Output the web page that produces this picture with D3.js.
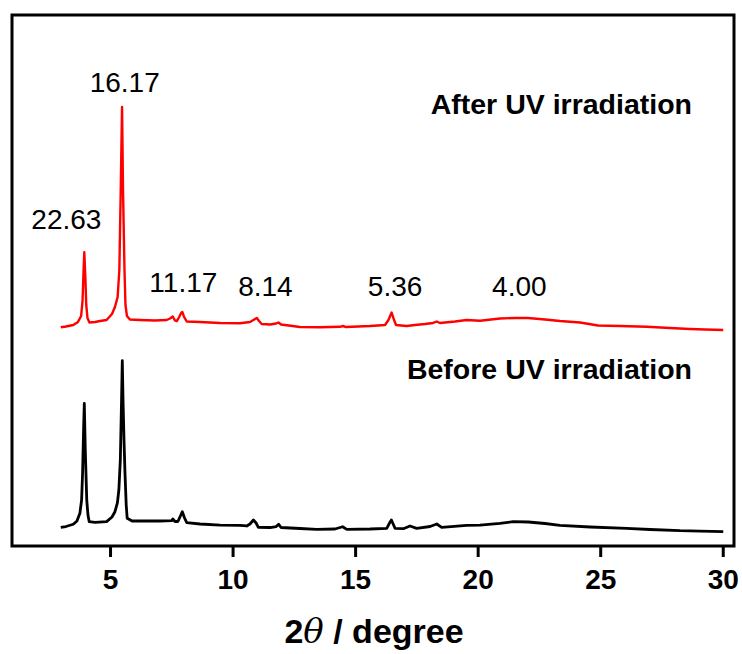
<!DOCTYPE html>
<html>
<head>
<meta charset="utf-8">
<script src="https://cdn.jsdelivr.net/npm/d3@7"></script>
<style>
  body { margin: 0; background: #fff; }
  text { font-family: "Liberation Sans", Arial, sans-serif; }
</style>
</head>
<body>
<div id="chart"></div>
<script>
// XRD patterns, 2theta (degree) and stacked intensity (a.u.)
const afterTheta = [2.99, 3.20, 3.50, 3.69, 3.82, 3.88, 3.92, 3.95, 3.99, 4.03, 4.08, 4.16, 4.39, 4.59, 4.86,
  5.08, 5.20, 5.31, 5.38, 5.43, 5.49, 5.53, 5.59, 5.63, 5.69, 5.81, 6.22, 6.83, 7.31, 7.45, 7.56, 7.65, 7.73,
  7.82, 7.90, 7.95, 8.02, 8.13, 8.67, 9.49, 10.30, 10.71, 10.85, 10.99, 11.08, 11.19, 11.53, 11.78, 11.87,
  11.98, 12.75, 13.57, 14.38, 14.51, 14.63, 15.61, 16.22, 16.36, 16.49, 16.59, 16.67, 17.10, 17.44, 17.85,
  18.18, 18.33, 18.46, 19.08, 19.55, 20.10, 20.91, 21.52, 22.05, 22.75, 23.36, 24.18, 24.91, 25.81, 26.90,
  27.85, 28.66, 29.28, 30.02];
const afterI = [41.19, 41.34, 41.62, 42.18, 43.31, 46.33, 51.98, 55.31, 51.04, 45.39, 42.94, 42.09, 42.18, 42.37, 42.56,
  43.69, 45.01, 46.89, 51.98, 65.16, 82.67, 67.04, 51.98, 45.39, 43.31, 42.66, 42.56, 42.47, 42.56, 42.84, 43.22, 42.47, 42.37,
  43.13, 43.88, 44.07, 43.13, 42.28, 42.18, 42.00, 41.94, 42.18, 42.56, 42.94, 42.37, 41.81, 41.71, 41.90, 42.09,
  41.71, 41.24, 41.19, 41.28, 41.43, 41.24, 41.43, 41.62, 42.56, 43.97, 42.56, 41.62, 41.43, 41.62, 41.81,
  42.00, 42.28, 42.00, 42.28, 42.56, 42.43, 42.84, 42.94, 42.94, 42.66, 42.37, 42.09, 41.53, 41.43, 41.30,
  41.06, 40.87, 40.77, 40.68];

const beforeTheta = [2.99, 3.20, 3.50, 3.65, 3.77, 3.84, 3.88, 3.92, 3.95, 3.99, 4.05, 4.10, 4.15, 4.39, 4.86,
  5.08, 5.20, 5.30, 5.36, 5.42, 5.47, 5.50, 5.53, 5.57, 5.61, 5.66, 5.70, 5.90, 6.22, 7.04, 7.52, 7.56, 7.65,
  7.77, 7.88, 7.95, 8.04, 8.13, 8.67, 9.49, 10.30, 10.58, 10.71, 10.85, 10.96, 11.05, 11.53, 11.78, 11.88,
  11.98, 12.75, 13.43, 14.18, 14.49, 14.66, 15.61, 16.29, 16.38, 16.48, 16.57, 16.63, 16.97, 17.24, 17.51,
  18.06, 18.33, 18.53, 19.55, 20.10, 20.91, 21.45, 22.07, 22.75, 23.36, 24.59, 26.08, 27.03, 28.26, 29.07, 30.02];
const beforeI = [3.52, 3.67, 4.09, 4.71, 6.16, 8.66, 13.75, 21.85, 26.87, 18.08, 8.66, 5.84, 4.58, 4.43, 4.58,
  5.46, 6.46, 8.10, 10.55, 16.20, 27.50, 34.90, 27.50, 19.96, 13.75, 7.72, 5.22, 4.71, 4.71, 4.71, 4.76, 5.08, 4.61,
  4.61, 5.74, 6.46, 5.27, 4.39, 4.14, 3.95, 3.90, 3.77, 4.14, 4.90, 4.33, 3.52, 3.48, 3.67, 4.09,
  3.48, 3.30, 3.14, 3.20, 3.63, 3.14, 3.20, 3.33, 4.14, 4.90, 3.95, 3.33, 3.26, 3.77, 3.33,
  3.67, 4.14, 3.52, 3.90, 3.95, 4.27, 4.58, 4.52, 4.24, 3.90, 3.58, 3.33, 3.11, 2.88, 2.82, 2.69];

// d-spacing labels (Angstrom) with the 2theta / intensity they sit above
const peakLabels = ["22.63", "16.17", "11.17", "8.14", "5.36", "4.00"];
const peakLabelTheta = [3.22, 5.60, 7.99, 11.34, 16.63, 21.70];
const peakLabelI = [59.7, 85.5, 47.8, 47.1, 47.1, 47.0];

const xTicks = [5, 10, 15, 20, 25, 30];

const width = 742, height = 654;
const plot = { left: 12, right: 735, top: 15, bottom: 546 };

const svg = d3.select("#chart").append("svg")
  .attr("width", width)
  .attr("height", height);

const x = d3.scaleLinear().domain([1, 30.5]).range([plot.left, plot.right]);
const y = d3.scaleLinear().domain([0, 100]).range([plot.bottom, plot.top]);

const line = d3.line()
  .x(d => x(d[0]))
  .y(d => y(d[1]));

// curves
svg.append("path")
  .datum(d3.zip(beforeTheta, beforeI))
  .attr("d", line)
  .attr("fill", "none")
  .attr("stroke", "#000")
  .attr("stroke-width", 2.8)
  .attr("stroke-linejoin", "round");

svg.append("path")
  .datum(d3.zip(afterTheta, afterI))
  .attr("d", line)
  .attr("fill", "none")
  .attr("stroke", "#ff0000")
  .attr("stroke-width", 2.4)
  .attr("stroke-linejoin", "round");

// bottom axis
const xAxis = svg.append("g")
  .attr("transform", `translate(0,${plot.bottom})`)
  .call(d3.axisBottom(x).tickValues(xTicks).tickSize(11).tickPadding(12));

xAxis.select(".domain").remove();
xAxis.selectAll(".tick line").attr("stroke", "#000").attr("stroke-width", 3);
xAxis.selectAll(".tick text")
  .attr("fill", "#000")
  .style("font-size", "28px")
  .style("font-weight", "bold")
  .style("font-family", "'Liberation Sans', Arial, sans-serif");

// frame
svg.append("rect")
  .attr("x", plot.left)
  .attr("y", plot.top)
  .attr("width", plot.right - plot.left - 1)
  .attr("height", plot.bottom - plot.top)
  .attr("fill", "none")
  .attr("stroke", "#000")
  .attr("stroke-width", 3);

// peak labels
svg.selectAll(".peak-label")
  .data(peakLabels)
  .enter()
  .append("text")
  .attr("class", "peak-label")
  .attr("x", (d, i) => x(peakLabelTheta[i]))
  .attr("y", (d, i) => y(peakLabelI[i]))
  .attr("text-anchor", "middle")
  .style("font-size", "28px")
  .text(d => d);

// series names
svg.append("text")
  .attr("x", 692)
  .attr("y", 114)
  .attr("text-anchor", "end")
  .style("font-size", "28.5px")
  .style("font-weight", "bold")
  .text("After UV irradiation");

svg.append("text")
  .attr("x", 692)
  .attr("y", 379)
  .attr("text-anchor", "end")
  .style("font-size", "28.5px")
  .style("font-weight", "bold")
  .text("Before UV irradiation");

// axis title
const title = svg.append("text")
  .attr("x", 374)
  .attr("y", 643)
  .attr("text-anchor", "middle")
  .style("font-size", "34px")
  .style("font-weight", "bold");
title.append("tspan").text("2");
title.append("tspan")
  .style("font-style", "italic")
  .style("font-weight", "normal")
  .style("font-family", "'DejaVu Serif', serif")
  .text("θ");
title.append("tspan").text(" / degree");
</script>
</body>
</html>
